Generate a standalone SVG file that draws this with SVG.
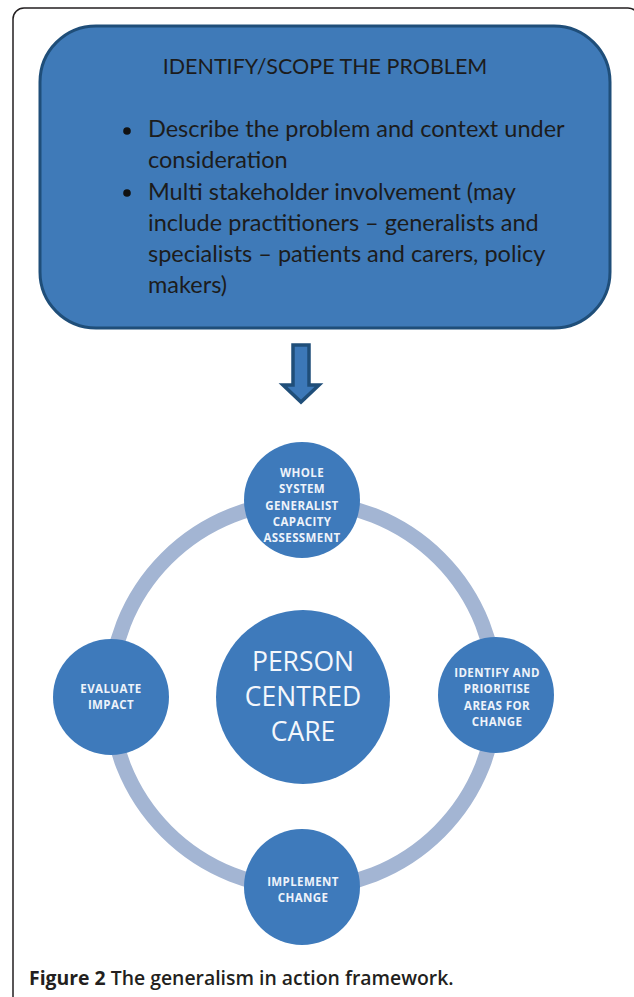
<svg xmlns="http://www.w3.org/2000/svg" width="634" height="997" viewBox="0 0 634 997">
<style>
.box-text{font-family:Lato,"Open Sans","Liberation Sans",sans-serif;fill:#1c1c1c;font-size:23.5px}
.title{font-family:Lato,"Open Sans","Liberation Sans",sans-serif;fill:#1c1c1c;font-size:21.5px}
.node{fill:#3e7abb}
.ntext{font-family:"Open Sans","Liberation Sans",sans-serif;font-weight:bold;font-size:11.5px;letter-spacing:0.4px;fill:#eef3fa;text-anchor:middle}
.ctext{font-family:"Open Sans","Liberation Sans",sans-serif;font-size:26.5px;fill:#f4f7fc;text-anchor:middle}
.cap{font-family:"Open Sans","Liberation Sans",sans-serif;font-size:19.4px;font-weight:600;fill:#231f20}
</style>
<rect width="634" height="997" fill="#ffffff"/>
<rect x="13" y="8" width="626" height="1010" rx="11" fill="none" stroke="#231f20" stroke-width="1.5"/>
<g id="problem">
<rect x="40" y="26" width="570" height="302" rx="56" fill="#3f7ab8" stroke="#1f4e79" stroke-width="3"/>
<text class="title" x="325" y="74" text-anchor="middle">IDENTIFY/SCOPE THE PROBLEM</text>
<circle cx="127" cy="131" r="3.8" fill="#111"/>
<circle cx="127" cy="193" r="3.8" fill="#111"/>
<text class="box-text" x="148" y="137">Describe the problem and context under</text>
<text class="box-text" x="148" y="168">consideration</text>
<text class="box-text" x="148" y="200">Multi stakeholder involvement (may</text>
<text class="box-text" x="148" y="231">include practitioners – generalists and</text>
<text class="box-text" x="148" y="262">specialists – patients and carers, policy</text>
<text class="box-text" x="148" y="293">makers)</text>
</g>
<g id="connectors">
<path d="M293 345 H309 V385 H319 L301 402 L283 385 H293 Z" fill="#3c78b8" stroke="#1f4e79" stroke-width="3.5" stroke-linejoin="miter"/>
<circle cx="303" cy="695" r="193" fill="none" stroke="#a3b5d3" stroke-width="15"/>
</g>
<g id="whole-system">
<circle class="node" cx="302" cy="500" r="58"/>
<text class="ntext" x="302" y="477">WHOLE</text>
<text class="ntext" x="302" y="493">SYSTEM</text>
<text class="ntext" x="302" y="510">GENERALIST</text>
<text class="ntext" x="302" y="526">CAPACITY</text>
<text class="ntext" x="302" y="542">ASSESSMENT</text>
</g>
<g id="identify-prioritise">
<circle class="node" cx="496" cy="695" r="58"/>
<text class="ntext" x="497" y="677">IDENTIFY AND</text>
<text class="ntext" x="497" y="693">PRIORITISE</text>
<text class="ntext" x="497" y="710">AREAS FOR</text>
<text class="ntext" x="497" y="726">CHANGE</text>
</g>
<g id="implement-change">
<circle class="node" cx="302" cy="887" r="58"/>
<text class="ntext" x="303" y="886">IMPLEMENT</text>
<text class="ntext" x="303" y="902">CHANGE</text>
</g>
<g id="evaluate-impact">
<circle class="node" cx="111" cy="697" r="58"/>
<text class="ntext" x="111" y="693">EVALUATE</text>
<text class="ntext" x="111" y="709">IMPACT</text>
</g>
<g id="person-centred-care">
<circle class="node" cx="303" cy="697" r="87"/>
<text class="ctext" x="303" y="671">PERSON</text>
<text class="ctext" x="303" y="706">CENTRED</text>
<text class="ctext" x="303" y="741">CARE</text>
</g>
<text class="cap" x="29" y="985"><tspan font-weight="bold">Figure 2</tspan> The generalism in action framework.</text>
</svg>
